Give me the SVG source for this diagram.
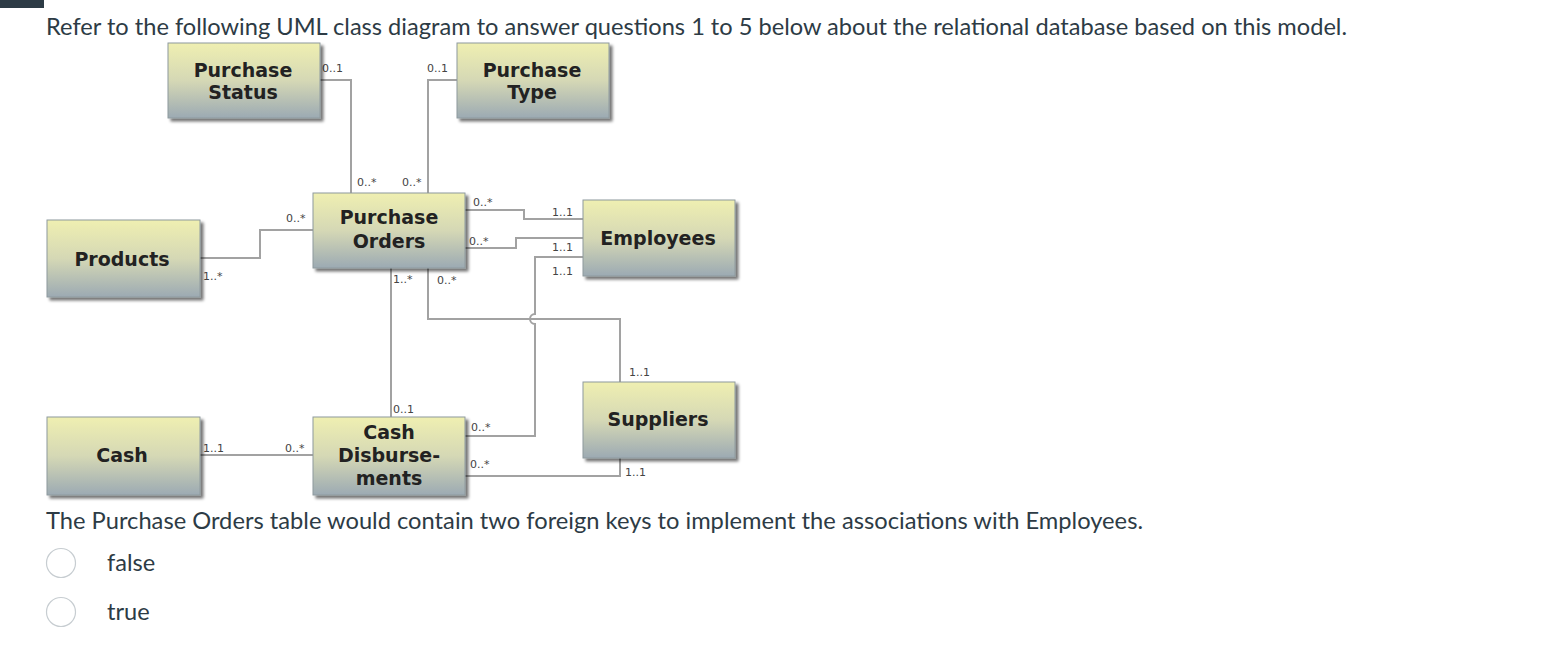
<svg xmlns="http://www.w3.org/2000/svg" width="1543" height="652" viewBox="0 0 1543 652">
<defs>
<linearGradient id="boxfill" x1="0" y1="0" x2="0" y2="1">
<stop offset="0" stop-color="#efefb1"/>
<stop offset="0.5" stop-color="#d5d8b5"/>
<stop offset="1" stop-color="#9caab3"/>
</linearGradient>
<filter id="shadow" x="-10%" y="-10%" width="130%" height="130%">
<feGaussianBlur in="SourceAlpha" stdDeviation="1.5"/>
<feOffset dx="3" dy="3" result="b"/>
<feComponentTransfer><feFuncA type="linear" slope="0.55"/></feComponentTransfer>
<feMerge><feMergeNode/><feMergeNode in="SourceGraphic"/></feMerge>
</filter>
</defs>
<style>
.page{font-family:Lato,"Liberation Sans",sans-serif;font-size:23.6px;fill:#2d3b45}
.box{fill:url(#boxfill);stroke:#8e9a9e;stroke-width:1;filter:url(#shadow)}
.lbl{font-family:"DejaVu Sans",Verdana,sans-serif;font-weight:bold;font-size:19px;fill:#222;text-anchor:middle}
.m{font-family:"DejaVu Sans",Verdana,sans-serif;font-size:11px;fill:#444}
.conn{fill:none;stroke:#a2a2a2;stroke-width:2}
.radio{fill:#fff;stroke:#c7cdd1;stroke-width:1.2}
</style>
<rect width="1543" height="652" fill="#fff"/>
<rect x="0" y="0" width="44" height="8" fill="#2d3b45"/>
<text class="page" x="46" y="35" textLength="1301" lengthAdjust="spacingAndGlyphs">Refer to the following UML class diagram to answer questions 1 to 5 below about the relational database based on this model.</text>

<g id="connectors">
<path class="conn" d="M320,80 H351 V193"/>
<path class="conn" d="M457,80 H428 V193"/>
<path class="conn" d="M200,258 H260 V230 H313"/>
<path class="conn" d="M465,210 H524 V219 H583"/>
<path class="conn" d="M465,248 H516 V238 H583"/>
<path class="conn" d="M583,257 H535 V314 A5,5 0 0 0 535,324 V436 H465"/>
<path class="conn" d="M391,268 V417"/>
<path class="conn" d="M428,268 V319 H620 V382"/>
<path class="conn" d="M620,458 V476 H465"/>
<path class="conn" d="M200,455 H313"/>
</g>

<g id="labels">
<text class="m" x="322" y="72">0..1</text>
<text class="m" x="427" y="72">0..1</text>
<text class="m" x="357" y="186">0..*</text>
<text class="m" x="402" y="186">0..*</text>
<text class="m" x="286" y="222">0..*</text>
<text class="m" x="203" y="280">1..*</text>
<text class="m" x="473" y="206">0..*</text>
<text class="m" x="552" y="216">1..1</text>
<text class="m" x="469" y="245">0..*</text>
<text class="m" x="552" y="251">1..1</text>
<text class="m" x="552" y="275">1..1</text>
<text class="m" x="393" y="283">1..*</text>
<text class="m" x="437" y="284">0..*</text>
<text class="m" x="393" y="413">0..1</text>
<text class="m" x="629" y="376">1..1</text>
<text class="m" x="471" y="431">0..*</text>
<text class="m" x="470" y="468">0..*</text>
<text class="m" x="625" y="476">1..1</text>
<text class="m" x="203" y="452">1..1</text>
<text class="m" x="285" y="452">0..*</text>
</g>

<g id="purchase-status">
<rect class="box" x="168" y="43" width="152" height="75"/>
<text class="lbl" x="243" y="76.5">Purchase</text>
<text class="lbl" x="243" y="99">Status</text>
</g>
<g id="purchase-type">
<rect class="box" x="457" y="43" width="152" height="75"/>
<text class="lbl" x="532" y="76.5">Purchase</text>
<text class="lbl" x="532" y="99">Type</text>
</g>
<g id="purchase-orders">
<rect class="box" x="313" y="193" width="152" height="75"/>
<text class="lbl" x="389" y="224">Purchase</text>
<text class="lbl" x="389" y="248">Orders</text>
</g>
<g id="products">
<rect class="box" x="47" y="220" width="153" height="77"/>
<text class="lbl" x="122" y="265.5">Products</text>
</g>
<g id="employees">
<rect class="box" x="583" y="200" width="152" height="76"/>
<text class="lbl" x="658" y="245">Employees</text>
</g>
<g id="suppliers">
<rect class="box" x="583" y="382" width="152" height="76"/>
<text class="lbl" x="658" y="426">Suppliers</text>
</g>
<g id="cash">
<rect class="box" x="47" y="417" width="153" height="78"/>
<text class="lbl" x="122" y="462">Cash</text>
</g>
<g id="cash-disbursements">
<rect class="box" x="313" y="417" width="152" height="78"/>
<text class="lbl" x="389" y="439">Cash</text>
<text class="lbl" x="389" y="462">Disburse-</text>
<text class="lbl" x="389" y="485">ments</text>
</g>

<text class="page" x="46" y="529" textLength="1097" lengthAdjust="spacingAndGlyphs">The Purchase Orders table would contain two foreign keys to implement the associations with Employees.</text>
<circle class="radio" cx="61" cy="563" r="14.5"/>
<text class="page" x="107" y="571">false</text>
<circle class="radio" cx="61" cy="612" r="14.5"/>
<text class="page" x="107" y="620">true</text>
</svg>
